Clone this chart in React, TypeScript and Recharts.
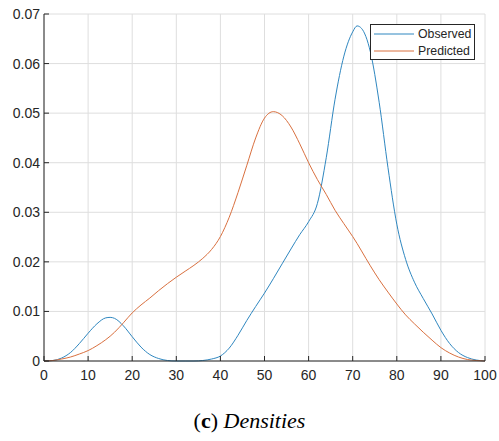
import React from 'react';
import { LineChart, Line, XAxis, YAxis, CartesianGrid, Legend } from 'recharts';

const xValues = [0, 2, 4, 6, 8, 10, 12, 14, 15, 16, 18, 20, 22, 24, 26, 28, 30, 32, 34, 36, 38, 40, 42, 44, 46, 48, 50, 52, 54, 56, 58, 60, 62, 64, 66, 68, 70, 71, 72, 74, 76, 78, 80, 82, 84, 86, 88, 90, 92, 94, 96, 98, 100];

const observed = [0, 0.0001, 0.0006, 0.0017, 0.0035, 0.0056, 0.0075, 0.0087, 0.0088, 0.0086, 0.0071, 0.0049, 0.0028, 0.0013, 0.0005, 0.0001, 0, 0, 0, 0.0001, 0.0004, 0.001, 0.0026, 0.0052, 0.0082, 0.011, 0.0137, 0.0166, 0.0196, 0.0226, 0.0255, 0.0281, 0.0318, 0.041, 0.0528, 0.0615, 0.0664, 0.0676, 0.0671, 0.0624, 0.0522, 0.039, 0.0276, 0.0205, 0.0159, 0.0126, 0.0095, 0.0062, 0.0035, 0.0017, 0.0007, 0.0002, 0];

const predicted = [0, 0.0001, 0.0004, 0.0008, 0.0014, 0.0021, 0.0031, 0.0043, 0.005, 0.0058, 0.0077, 0.0097, 0.0113, 0.0127, 0.0142, 0.0156, 0.0169, 0.0181, 0.0193, 0.0207, 0.0225, 0.0251, 0.029, 0.034, 0.0395, 0.045, 0.049, 0.0503, 0.0495, 0.0472, 0.0438, 0.04, 0.0366, 0.0336, 0.0304, 0.0277, 0.0251, 0.0237, 0.0222, 0.0192, 0.0164, 0.0139, 0.0115, 0.0093, 0.0075, 0.0058, 0.0042, 0.0027, 0.0016, 0.0008, 0.0003, 0.0001, 0];

const xTicks = [0, 10, 20, 30, 40, 50, 60, 70, 80, 90, 100];
const yTicks = [0, 0.01, 0.02, 0.03, 0.04, 0.05, 0.06, 0.07];
const seriesNames = ['Observed', 'Predicted'];
const caption = { label: 'c', title: 'Densities' };

const COLORS = ['#2f87c0', '#d9703f'];
const AXIS = '#262626';

const data = xValues.map((x, i) => ({ x, observed: observed[i], predicted: predicted[i] }));

const renderLegend = () => (
  <div
    style={{
      width: 105,
      height: 36,
      border: `1px solid ${AXIS}`,
      background: '#fff',
      boxSizing: 'border-box',
      fontFamily: '"Liberation Sans", Arial, sans-serif',
      fontSize: 12.3,
      color: AXIS,
      paddingTop: 1,
    }}
  >
    {seriesNames.map((n, i) => (
      <div key={n} style={{ display: 'flex', alignItems: 'center', height: 16.5, lineHeight: '16.5px' }}>
        <svg width={47} height={16} style={{ display: 'block' }}>
          <line x1={3} x2={43} y1={8} y2={8} stroke={COLORS[i]} strokeWidth={1} />
        </svg>
        <span>{n}</span>
      </div>
    ))}
  </div>
);

const tickStyle = { fill: AXIS, fontSize: 14, fontFamily: '"Liberation Sans", Arial, sans-serif' };

export default function App() {
  return (
    <div style={{ position: 'absolute', left: 0, top: 0, width: 499, height: 441, background: '#fff' }}>
      <LineChart width={499} height={441} data={data} margin={{ top: 14, right: 14, left: 0, bottom: 50 }}>
        <CartesianGrid xAxisId="bottom" yAxisId="left" stroke="#dedede" strokeWidth={1} horizontal vertical />
        <XAxis
          xAxisId="bottom"
          dataKey="x"
          type="number"
          domain={[0, 100]}
          ticks={xTicks}
          height={30}
          stroke={AXIS}
          tickSize={-5}
          tickMargin={14}
          tick={tickStyle}
          interval={0}
        />
        <XAxis
          xAxisId="top"
          dataKey="x"
          type="number"
          orientation="top"
          domain={[0, 100]}
          ticks={xTicks}
          height={0}
          stroke={AXIS}
          tickSize={-5}
          tickFormatter={() => ''}
          interval={0}
        />
        <YAxis
          yAxisId="left"
          type="number"
          domain={[0, 0.07]}
          ticks={yTicks}
          width={44}
          stroke={AXIS}
          tickSize={-5}
          tickMargin={9}
          tick={tickStyle}
          interval={0}
          tickFormatter={(v: number) => (v === 0 ? '0' : v.toFixed(2))}
        />
        <YAxis
          yAxisId="right"
          orientation="right"
          type="number"
          domain={[0, 0.07]}
          ticks={yTicks}
          width={0}
          stroke={AXIS}
          tickSize={-5}
          tickFormatter={() => ''}
          interval={0}
        />
        <Legend
          layout="horizontal"
          verticalAlign="middle"
          align="center"
          content={renderLegend}
          wrapperStyle={{ position: 'absolute', left: 370, top: 24, width: 105, right: 'auto', bottom: 'auto' }}
        />
        <Line
          xAxisId="bottom"
          yAxisId="left"
          type="monotone"
          dataKey="observed"
          name={seriesNames[0]}
          stroke={COLORS[0]}
          strokeWidth={1}
          dot={false}
          isAnimationActive={false}
        />
        <Line
          xAxisId="bottom"
          yAxisId="left"
          type="monotone"
          dataKey="predicted"
          name={seriesNames[1]}
          stroke={COLORS[1]}
          strokeWidth={1}
          dot={false}
          isAnimationActive={false}
        />
      </LineChart>
      <div
        style={{
          position: 'absolute',
          left: 0,
          width: 499,
          top: 410,
          textAlign: 'center',
          fontFamily: '"Liberation Serif", "DejaVu Serif", serif',
          fontSize: 22,
          lineHeight: '21px',
          color: '#000',
        }}
      >
        (<b>{caption.label}</b>) <i>{caption.title}</i>
      </div>
    </div>
  );
}
